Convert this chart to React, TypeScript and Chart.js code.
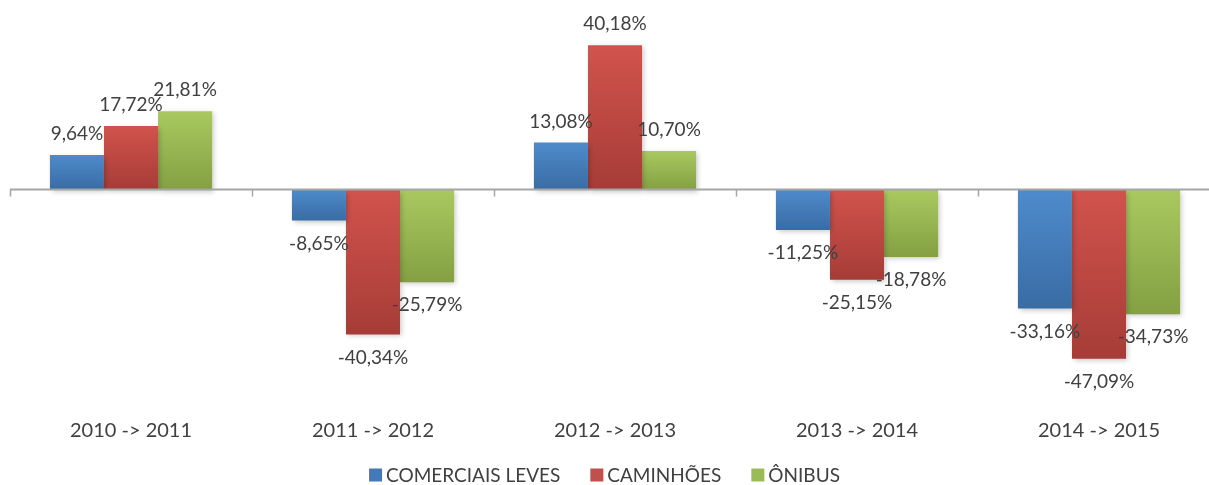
import React, { useEffect, useRef } from 'react';
import { Chart, registerables } from 'chart.js';

Chart.register(...registerables);

const categories = ['2010 -> 2011', '2011 -> 2012', '2012 -> 2013', '2013 -> 2014', '2014 -> 2015'];
const comerciaisLeves = [9.64, -8.65, 13.08, -11.25, -33.16];
const caminhoes = [17.72, -40.34, 40.18, -25.15, -47.09];
const onibus = [21.81, -25.79, 10.7, -18.78, -34.73];
const seriesNames = ['COMERCIAIS LEVES', 'CAMINHÕES', 'ÔNIBUS'];
const yMin = -60;
const yMax = 50;

const FONT = 'Lato, "Noto Sans", sans-serif';
const TEXT = '#404040';
const VISIBLE_W = 1209;
const CANVAS_W = 1220;
const CANVAS_H = 485;

const palette = [
  { top: '#4e8bcc', bottom: '#396ca4', flat: '#4379b8' },
  { top: '#d2534d', bottom: '#a63c37', flat: '#c0504d' },
  { top: '#a9c95f', bottom: '#84a043', flat: '#9bbb59' },
];

function gradientFill(i: number) {
  return (ctx: any) => {
    const chart = ctx.chart;
    const area = chart.chartArea;
    if (!area || ctx.type !== 'data' || !chart.scales.y) return palette[i].flat;
    const y = chart.scales.y;
    const v = ctx.raw as number;
    const p0 = y.getPixelForValue(0);
    const p1 = y.getPixelForValue(v);
    const top = Math.min(p0, p1);
    const bot = Math.max(p0, p1) + 0.01;
    const g = chart.ctx.createLinearGradient(0, top, 0, bot);
    g.addColorStop(0, palette[i].top);
    g.addColorStop(1, palette[i].bottom);
    return g;
  };
}

const fmt = (v: number) => v.toFixed(2).replace('.', ',') + '%';

const decor = {
  id: 'decor',
  beforeDatasetsDraw(chart: any) {
    const ctx = chart.ctx;
    ctx.save();
    ctx.shadowColor = 'rgba(0,0,0,0.22)';
    ctx.shadowBlur = 5;
    ctx.shadowOffsetX = 2;
    ctx.shadowOffsetY = 2;
  },
  afterDatasetsDraw(chart: any) {
    const ctx = chart.ctx;
    ctx.restore();
    const xs = chart.scales.x;
    const ys = chart.scales.y;
    const area = chart.chartArea;
    const y0 = ys.getPixelForValue(0);
    // zero axis line
    ctx.save();
    ctx.strokeStyle = '#a6a6a6';
    ctx.lineWidth = 2;
    ctx.beginPath();
    ctx.moveTo(area.left, y0);
    ctx.lineTo(area.right, y0);
    ctx.stroke();
    // category boundary tick marks
    ctx.lineWidth = 1.5;
    for (let i = 0; i <= categories.length; i++) {
      const x = Math.round(xs.getPixelForValue(i - 0.5)) + 0.5;
      ctx.beginPath();
      ctx.moveTo(x, y0);
      ctx.lineTo(x, y0 + 7);
      ctx.stroke();
    }
    ctx.restore();
    // data labels
    ctx.save();
    ctx.font = `19px ${FONT}`;
    ctx.fillStyle = TEXT;
    ctx.textAlign = 'center';
    ctx.textBaseline = 'middle';
    chart.data.datasets.forEach((ds: any, di: number) => {
      const meta = chart.getDatasetMeta(di);
      meta.data.forEach((el: any, i: number) => {
        const v = ds.data[i] as number;
        const yy = v >= 0 ? el.y - 21 : el.y + 23;
        ctx.fillText(fmt(v), el.x, yy);
      });
    });
    ctx.restore();
  },
  afterDraw(chart: any) {
    const ctx = chart.ctx;
    ctx.save();
    ctx.font = `19px ${FONT}`;
    const box = 13;
    const gap = 4;
    const itemGap = 30;
    const widths = seriesNames.map((n) => box + gap + ctx.measureText(n).width);
    const total = widths.reduce((a, b) => a + b, 0) + itemGap * (seriesNames.length - 1);
    let x = VISIBLE_W / 2 - total / 2;
    const cy = 475;
    seriesNames.forEach((n, i) => {
      ctx.fillStyle = palette[i].flat;
      ctx.fillRect(x, cy - box / 2, box, box);
      ctx.fillStyle = TEXT;
      ctx.textAlign = 'left';
      ctx.textBaseline = 'middle';
      ctx.fillText(n, x + box + gap, cy + 1);
      x += widths[i] + itemGap;
    });
    ctx.restore();
  },
};

export default function App() {
  const ref = useRef<HTMLCanvasElement | null>(null);
  useEffect(() => {
    if (!ref.current) return;
    const chart = new Chart(ref.current, {
      type: 'bar',
      data: {
        labels: categories,
        datasets: [
          { label: seriesNames[0], data: comerciaisLeves, backgroundColor: gradientFill(0) },
          { label: seriesNames[1], data: caminhoes, backgroundColor: gradientFill(1) },
          { label: seriesNames[2], data: onibus, backgroundColor: gradientFill(2) },
        ],
      },
      options: {
        animation: false,
        responsive: false,
        devicePixelRatio: 1,
        categoryPercentage: 0.67,
        barPercentage: 1,
        layout: { padding: { left: 10, right: 0, top: 10, bottom: 28 } },
        plugins: {
          legend: { display: false },
          tooltip: { enabled: false },
        },
        scales: {
          x: {
            grid: { display: false, drawTicks: false },
            border: { display: false },
            ticks: { color: TEXT, font: { family: FONT, size: 20 }, padding: 14, maxRotation: 0 },
          },
          y: {
            display: false,
            min: yMin,
            max: yMax,
          },
        },
      },
      plugins: [decor],
    });
    return () => chart.destroy();
  }, []);
  return (
    <div style={{ position: 'fixed', left: 0, top: 0, width: VISIBLE_W, height: CANVAS_H, overflow: 'hidden', background: '#fff' }}>
      <canvas ref={ref} width={CANVAS_W} height={CANVAS_H} style={{ display: 'block', width: CANVAS_W, height: CANVAS_H }} />
    </div>
  );
}
